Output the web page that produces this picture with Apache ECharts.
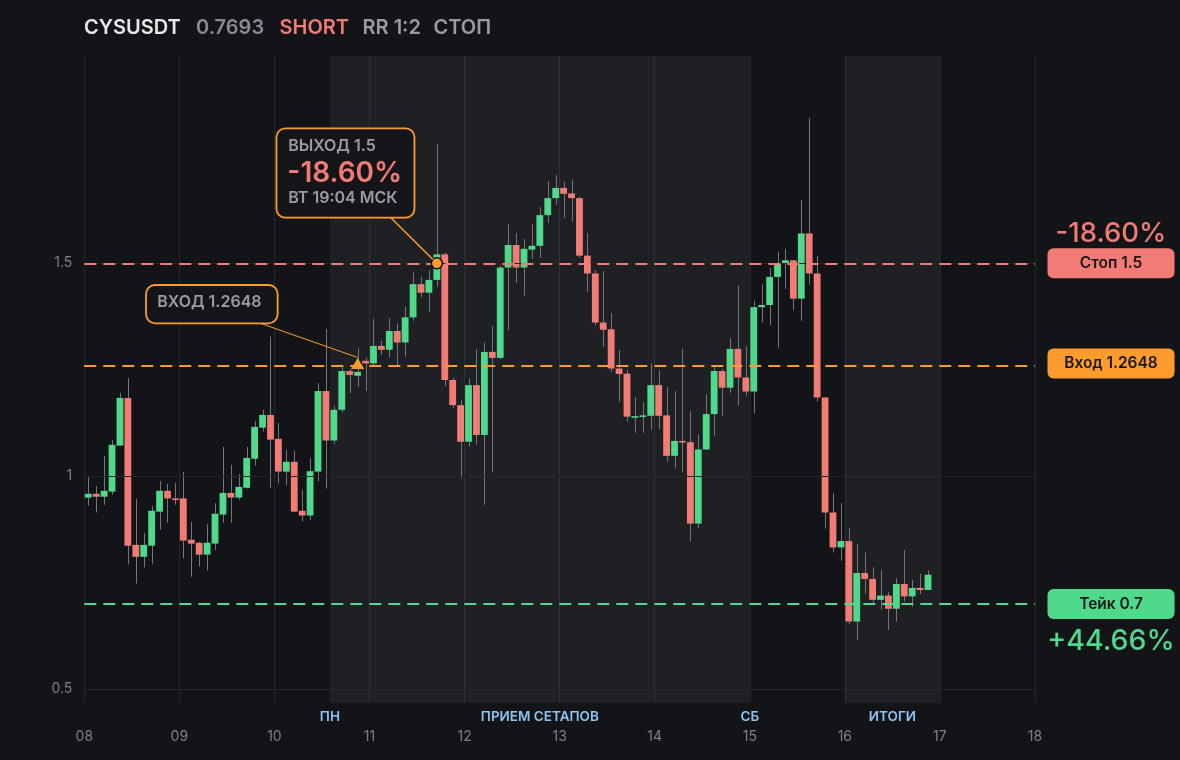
<!DOCTYPE html>
<html><head><meta charset="utf-8">
<script src="https://cdn.jsdelivr.net/npm/echarts@6/dist/echarts.min.js"></script>
<style>html,body{margin:0;padding:0;background:#131418;}#c{width:1180px;height:760px;}</style>
</head><body><div id="c"></div>
<script>
// ---- data ----
const dayLabels = ['08','09','10','11','12','13','14','15','16','17','18'];
const opens = [0.950,0.959,0.952,0.964,1.072,1.184,0.839,0.811,0.837,0.917,
0.966,0.948,0.948,0.851,0.844,0.816,0.842,0.910,0.961,0.950,
0.973,1.041,1.114,1.144,1.088,1.011,1.034,0.919,0.908,1.011,
1.200,1.084,1.156,1.247,1.236,1.271,1.265,1.306,1.297,1.341,
1.314,1.373,1.451,1.431,1.461,1.521,1.226,1.167,1.081,1.214,
1.097,1.292,1.278,1.490,1.543,1.490,1.532,1.541,1.613,1.653,
1.677,1.664,1.653,1.518,1.476,1.361,1.345,1.253,1.241,1.138,
1.140,1.142,1.214,1.143,1.048,1.083,1.080,0.889,1.063,1.146,
1.247,1.208,1.299,1.232,1.199,1.397,1.402,1.468,1.499,1.507,
1.417,1.570,1.476,1.185,0.915,0.833,0.848,0.659,0.773,0.759,
0.710,0.720,0.689,0.747,0.718,0.738,0.733];
const closes = [0.959,0.952,0.966,1.074,1.184,0.837,0.811,0.839,0.919,0.966,
0.948,0.945,0.849,0.842,0.816,0.844,0.912,0.961,0.950,0.975,
1.043,1.116,1.144,1.086,1.011,1.034,0.917,0.908,1.012,1.200,
1.084,1.156,1.247,1.238,1.245,1.265,1.306,1.297,1.341,1.314,
1.373,1.451,1.431,1.461,1.521,1.226,1.167,1.081,1.214,1.097,
1.292,1.278,1.490,1.543,1.490,1.534,1.541,1.613,1.653,1.677,
1.663,1.653,1.518,1.476,1.361,1.344,1.253,1.240,1.140,1.141,
1.143,1.214,1.142,1.048,1.083,1.080,0.889,1.063,1.146,1.247,
1.208,1.299,1.232,1.199,1.397,1.402,1.468,1.499,1.507,1.417,
1.570,1.476,1.185,0.915,0.833,0.848,0.659,0.773,0.759,0.710,
0.720,0.689,0.747,0.718,0.738,0.733,0.769];
const lows = [0.931,0.915,0.933,0.957,1.072,0.793,0.748,0.786,0.795,0.875,
0.891,0.933,0.807,0.764,0.788,0.779,0.827,0.891,0.891,0.945,
0.971,1.025,1.105,0.973,0.983,0.978,0.917,0.894,0.898,0.988,
0.971,1.075,1.150,1.195,1.210,1.200,1.260,1.285,1.279,1.261,
1.281,1.365,1.420,1.387,1.445,1.212,1.160,0.995,1.070,1.074,
0.933,1.009,1.275,1.343,1.454,1.424,1.510,1.513,1.595,1.637,
1.607,1.598,1.513,1.433,1.354,1.304,1.245,1.175,1.128,1.102,
1.102,1.109,1.111,1.034,1.020,1.011,0.847,0.879,1.062,1.095,
1.142,1.196,1.166,1.189,1.147,1.361,1.355,1.302,1.440,1.390,
1.365,1.450,1.175,0.877,0.821,0.802,0.653,0.616,0.724,0.704,
0.687,0.639,0.659,0.706,0.694,0.724,0.733];
const highs = [0.999,0.977,1.048,1.085,1.196,1.231,0.947,0.867,0.930,0.989,
0.982,0.984,1.010,0.893,0.846,0.887,0.937,1.069,1.027,1.005,
1.069,1.130,1.156,1.328,1.125,1.062,1.059,0.968,1.043,1.219,
1.346,1.165,1.256,1.252,1.300,1.278,1.369,1.318,1.371,1.359,
1.398,1.478,1.468,1.484,1.780,1.525,1.232,1.180,1.230,1.298,
1.314,1.352,1.495,1.592,1.571,1.557,1.592,1.632,1.693,1.707,
1.691,1.696,1.656,1.571,1.484,1.482,1.383,1.297,1.250,1.186,
1.174,1.265,1.250,1.210,1.200,1.299,1.153,1.099,1.193,1.257,
1.252,1.325,1.447,1.306,1.412,1.451,1.489,1.527,1.534,1.507,
1.649,1.841,1.517,1.185,0.960,0.937,0.878,0.841,0.821,0.786,
0.780,0.728,0.761,0.826,0.757,0.771,0.779];
const candleHours = 2;            // each candle covers 2 hours; x = hours since day 08 00:00
const yTicks = [0.5, 1, 1.5];
const stopLevel = 1.5, entryLevel = 1.2648, takeLevel = 0.7;
const entryHour = 69, exitHour = 89;   // candles where entry / exit happened
const zoneBounds = [[62, 168], [192, 216]];
const zoneLabels = [
  {hour: 62, text: 'ПН'}, {hour: 115, text: 'ПРИЕМ СЕТАПОВ'},
  {hour: 168, text: 'СБ'}, {hour: 204, text: 'ИТОГИ'}
];
const yMin = 0.4685, yMax = 1.9866;

// ---- style ----
const GREEN = '#4fd98b', RED = '#f37b75', ORANGE = '#fd9c2c';
const GRID = '#25262b', TXT = '#7d8088', FONT = 'Inter';

const candles = opens.map((o, i) => [i * candleHours + candleHours / 2, o, closes[i], lows[i], highs[i]]);

const chart = echarts.init(document.getElementById('c'), null, {renderer: 'canvas'});

function renderCandle(params, api) {
  const x = api.value(0), o = api.value(1), c = api.value(2), l = api.value(3), h = api.value(4);
  const pO = api.coord([x, o]), pC = api.coord([x, c]);
  const pL = api.coord([x, l]), pH = api.coord([x, h]);
  const w = api.size([candleHours, 0])[0] * 0.86;
  const top = Math.min(pO[1], pC[1]);
  const hh = Math.max(Math.abs(pO[1] - pC[1]), 1.6);
  const cx = Math.round(pO[0]) + 0.5;
  return {
    type: 'group',
    children: [
      {type: 'line', shape: {x1: cx, y1: pH[1], x2: cx, y2: pL[1]}, style: {stroke: '#74767c', lineWidth: 1}},
      {type: 'rect', shape: {x: pO[0] - w / 2, y: top, width: w, height: hh}, style: {fill: c >= o ? GREEN : RED}}
    ]
  };
}

function priceLabel(level, text, color, offX) {
  return {
    coord: [240, level], symbolSize: 0,
    label: {
      show: true, position: 'inside', offset: [offX, 0],
      formatter: '{b|' + text + '}',
      rich: {b: {backgroundColor: color, color: '#17181c', borderRadius: 6, width: 127, height: 30,
        lineHeight: 30, align: 'center', fontSize: 15.5, fontWeight: 600, fontFamily: FONT}}
    }
  };
}

const option = {
  backgroundColor: '#131418',
  animation: false,
  grid: {left: 84.3, right: 145, top: 56, bottom: 57.3},
  xAxis: {
    type: 'value', min: 0, max: 240, interval: 24,
    axisLine: {show: false}, axisTick: {show: false},
    axisLabel: {color: TXT, fontSize: 14, margin: 27, fontFamily: FONT,
      formatter: v => dayLabels[Math.round(v / 24)]},
    splitLine: {show: true, lineStyle: {color: GRID, width: 1}}
  },
  yAxis: {type: 'value', min: yMin, max: yMax, show: false},
  series: [
    {
      type: 'line', name: 'bg', data: [], z: 1, silent: true,
      markArea: {
        silent: true,
        itemStyle: {color: 'rgba(255,255,255,0.055)'},
        data: zoneBounds.map(b => [{xAxis: b[0]}, {xAxis: b[1]}])
      },
      markLine: {
        silent: true, symbol: 'none',
        lineStyle: {color: GRID, type: 'solid', width: 1},
        label: {show: true, position: 'start', distance: 12, color: TXT, fontSize: 14, fontFamily: FONT,
          formatter: p => String(p.value)},
        emphasis: {disabled: true},
        data: yTicks.map(v => ({yAxis: v}))
      },
      markPoint: {
        silent: true, symbolSize: 0,
        label: {show: true, position: 'inside', offset: [0, 14.5], color: '#8fc5f3', fontSize: 13.5,
          fontWeight: 600, fontFamily: FONT, formatter: p => p.name},
        data: zoneLabels.map(z => ({name: z.text, coord: [z.hour, yMin]}))
      }
    },
    {
      type: 'custom', name: 'candles', z: 3, renderItem: renderCandle,
      encode: {x: 0, y: [1, 2, 3, 4]}, data: candles
    },
    {
      type: 'line', name: 'levels', data: [], z: 5, silent: true,
      markLine: {
        silent: true, symbol: 'none', label: {show: false},
        emphasis: {disabled: true},
        data: [
          {yAxis: stopLevel, lineStyle: {color: RED, type: [12, 7], width: 2}},
          {yAxis: entryLevel, lineStyle: {color: ORANGE, type: [12, 7], width: 2}},
          {yAxis: takeLevel, lineStyle: {color: GREEN, type: [12, 7], width: 2}}
        ]
      },
      markPoint: {
        silent: true,
        data: [
          {coord: [exitHour, stopLevel], symbol: 'circle', symbolSize: 11,
            itemStyle: {color: ORANGE, borderColor: '#101114', borderWidth: 1.5}, label: {show: false}},
          {coord: [entryHour, entryLevel], symbol: 'triangle', symbolSize: [13, 11],
            itemStyle: {color: ORANGE}, label: {show: false}},
          priceLabel(stopLevel, 'Стоп 1.5', RED, 76),
          priceLabel(entryLevel, 'Вход 1.2648', ORANGE, 76),
          priceLabel(takeLevel, 'Тейк 0.7', GREEN, 76),
          {coord: [240, stopLevel], symbolSize: 0,
            label: {show: true, position: 'inside', offset: [76, -30], formatter: '-18.60%',
              color: RED, fontSize: 27.5, fontWeight: 500, fontFamily: FONT}},
          {coord: [240, takeLevel], symbolSize: 0,
            label: {show: true, position: 'inside', offset: [76, 37], formatter: '+44.66%',
              color: GREEN, fontSize: 28.5, fontWeight: 500, fontFamily: FONT}}
        ]
      }
    }
  ]
};
chart.setOption(option);

// ---- annotations anchored to the chart's own scale ----
const p = chart.convertToPixel({gridIndex: 0}, [exitHour, stopLevel]);
const q = chart.convertToPixel({gridIndex: 0}, [entryHour, entryLevel]);
function shorten(x1, y1, x2, y2, d) {
  const dx = x2 - x1, dy = y2 - y1, L = Math.hypot(dx, dy);
  return [x2 - dx / L * d, y2 - dy / L * d];
}
const pe = shorten(p[0] - 46, p[1] - 45.6, p[0], p[1], 5.5);
const qe = shorten(q[0] - 97.3, q[1] - 40.2, q[0], q[1] - 6, 0);
const GRAYTXT = '#9a9ca3';
chart.setOption({
  graphic: [
    {type: 'line', z: 100, shape: {x1: p[0] - 46, y1: p[1] - 45.6, x2: pe[0], y2: pe[1]},
      style: {stroke: ORANGE, lineWidth: 1.5}},
    {type: 'rect', z: 100, shape: {x: p[0] - 160.4, y: p[1] - 135, width: 138, height: 89.4, r: 9},
      style: {fill: '#141519', stroke: ORANGE, lineWidth: 1.8}},
    {type: 'text', z: 101, style: {text: 'ВЫХОД 1.5', x: p[0] - 148.7, y: p[1] - 117.3, fill: GRAYTXT,
      font: '600 16px Inter', verticalAlign: 'middle'}},
    {type: 'text', z: 101, style: {text: '-18.60%', x: p[0] - 149.5, y: p[1] - 89.3, fill: RED,
      font: '600 28px Inter', verticalAlign: 'middle'}},
    {type: 'text', z: 101, style: {text: 'ВТ 19:04 МСК', x: p[0] - 148.7, y: p[1] - 65.3, fill: GRAYTXT,
      font: '600 16px Inter', verticalAlign: 'middle'}},
    {type: 'line', z: 100, shape: {x1: q[0] - 97.3, y1: q[1] - 40.2, x2: qe[0], y2: qe[1]},
      style: {stroke: ORANGE, lineWidth: 1}},
    {type: 'rect', z: 100, shape: {x: q[0] - 211.6, y: q[1] - 78.5, width: 131.6, height: 38.3, r: 9},
      style: {fill: '#141519', stroke: ORANGE, lineWidth: 1.8}},
    {type: 'text', z: 101, style: {text: 'ВХОД 1.2648', x: q[0] - 200.3, y: q[1] - 60.8, fill: GRAYTXT,
      font: '600 16px Inter', verticalAlign: 'middle'}},
    // title row
    {type: 'text', z: 101, style: {text: 'CYSUSDT', x: 84, y: 28, fill: '#e8e8eb', font: '600 20px Inter', verticalAlign: 'middle'}},
    {type: 'text', z: 101, style: {text: '0.7693', x: 196, y: 28, fill: '#888b92', font: '600 20px Inter', verticalAlign: 'middle'}},
    {type: 'text', z: 101, style: {text: 'SHORT', x: 279.5, y: 28, fill: RED, font: '600 20px Inter', verticalAlign: 'middle'}},
    {type: 'text', z: 101, style: {text: 'RR 1:2', x: 362.5, y: 28, fill: '#9a9ca3', font: '600 20px Inter', verticalAlign: 'middle'}},
    {type: 'text', z: 101, style: {text: 'СТОП', x: 433.5, y: 28, fill: '#9a9ca3', font: '600 20px Inter', verticalAlign: 'middle'}}
  ]
});
</script></body></html>
